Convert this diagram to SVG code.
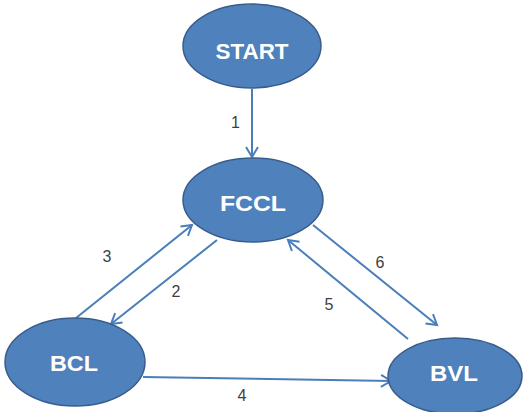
<svg xmlns="http://www.w3.org/2000/svg" width="523" height="412" viewBox="0 0 523 412">
  <defs>
    <style>
      .node ellipse { fill: #4F81BD; stroke: #385D8A; stroke-width: 1.5; }
      .node text { fill: #FFFFFF; font-family: "Liberation Sans", Arial, sans-serif; font-weight: bold; font-size: 22px; text-anchor: middle; }
      .edge { stroke: #4A7EBB; stroke-width: 2; fill: none; marker-end: url(#arrow); }
      .lbl { fill: #404040; font-family: "Liberation Sans", Arial, sans-serif; font-size: 16px; text-anchor: middle; }
    </style>
    <marker id="arrow" markerUnits="userSpaceOnUse" markerWidth="16" markerHeight="16" viewBox="-12 -8 14 16" refX="0" refY="0" orient="auto">
      <path d="M-10,-6 L0,0 L-10,6" fill="none" stroke="#4A7EBB" stroke-width="2"/>
    </marker>
  </defs>
  <rect width="523" height="412" fill="#FFFFFF"/>
  <g id="connectors">
    <line class="edge" x1="252" y1="89" x2="252" y2="157"/>
    <line class="edge" x1="76" y1="318" x2="192" y2="225"/>
    <line class="edge" x1="217" y1="240" x2="111" y2="324"/>
    <line class="edge" x1="313" y1="225" x2="437" y2="325"/>
    <line class="edge" x1="408" y1="339" x2="288" y2="240"/>
    <line class="edge" x1="143" y1="377" x2="391" y2="381"/>
    <text class="lbl" x="235.5" y="128">1</text>
    <text class="lbl" x="176" y="297">2</text>
    <text class="lbl" x="107" y="262">3</text>
    <text class="lbl" x="242" y="401">4</text>
    <text class="lbl" x="329" y="310">5</text>
    <text class="lbl" x="380" y="268">6</text>
  </g>
  <g id="start" class="node">
    <ellipse cx="252" cy="46" rx="69" ry="42"/>
    <text x="252" y="59" textLength="73" lengthAdjust="spacingAndGlyphs">START</text>
  </g>
  <g id="fccl" class="node">
    <ellipse cx="253" cy="200" rx="70" ry="42"/>
    <text x="253" y="211" textLength="66" lengthAdjust="spacingAndGlyphs">FCCL</text>
  </g>
  <g id="bcl" class="node">
    <ellipse cx="75" cy="362" rx="70" ry="44"/>
    <text x="74" y="371" textLength="48" lengthAdjust="spacingAndGlyphs">BCL</text>
  </g>
  <g id="bvl" class="node">
    <ellipse cx="455" cy="376" rx="67" ry="38"/>
    <text x="454" y="381" textLength="48" lengthAdjust="spacingAndGlyphs">BVL</text>
  </g>
</svg>
